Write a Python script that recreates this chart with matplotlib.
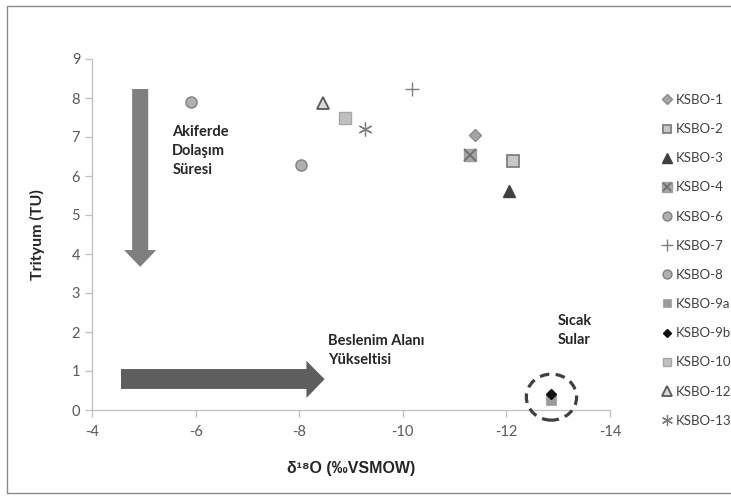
import numpy as np
import matplotlib
matplotlib.use("Agg")
import matplotlib.pyplot as plt
from matplotlib.patches import Polygon, Ellipse, Rectangle
from matplotlib.legend_handler import HandlerTuple

# ==========================================================
# DATA
# ==========================================================

names = ["KSBO-1", "KSBO-2", "KSBO-3", "KSBO-4", "KSBO-6", "KSBO-7",
         "KSBO-8", "KSBO-9a", "KSBO-9b", "KSBO-10", "KSBO-12", "KSBO-13"]

d18O = [-11.39, -12.13, -12.05, -11.29, -8.04, -10.18,
        -5.91, -12.87, -12.87, -8.89, -8.45, -9.27]

tritium = [7.06, 6.39, 5.62, 6.54, 6.28, 8.23,
           7.89, 0.26, 0.41, 7.50, 7.88, 7.20]

xticks = [-4, -6, -8, -10, -12, -14]
yticks = list(range(0, 10))

# ==========================================================
# STYLES
# ==========================================================

styles = {
    "KSBO-1": dict(marker="D", ms=6.5, mfc="#A6A6A6", mec="#8C8C8C", mew=1),
    "KSBO-2": dict(marker="s", ms=8, mfc="#C8C8C8", mec="#7F7F7F", mew=1.3),
    "KSBO-3": dict(marker="^", ms=9, mfc="#404040", mec="#404040", mew=1),
    "KSBO-4": dict(marker="s", ms=8.5, mfc="#A6A6A6", mec="#A0A0A0", mew=1),
    "KSBO-6": dict(marker="o", ms=8, mfc="#B0B0B0", mec="#808080", mew=1),
    "KSBO-7": dict(marker="+", ms=10, mfc="#808080", mec="#808080", mew=1),
    "KSBO-8": dict(marker="o", ms=8, mfc="#B0B0B0", mec="#808080", mew=1),
    "KSBO-9a": dict(marker="s", ms=7, mfc="#9C9C9C", mec="#9C9C9C", mew=0.5),
    "KSBO-9b": dict(marker="D", ms=5.5, mfc="#111111", mec="#111111", mew=1),
    "KSBO-10": dict(marker="s", ms=8, mfc="#C0C0C0", mec="#A6A6A6", mew=1),
    "KSBO-12": dict(marker="^", ms=9, mfc="#D9D9D9", mec="#595959", mew=1.3),
    "KSBO-13": dict(marker=(6, 2, 0), ms=10, mfc="#7A7A7A", mec="#7A7A7A", mew=0.9),
}

plt.rcParams["font.family"] = ["Lato", "DejaVu Sans"]

fig = plt.figure(figsize=(7.31, 4.96), dpi=100)
ax = fig.add_axes([92/731, 1-410/496, 518/731, 351/496])

# chart frame
fig.patches.append(Rectangle((7/731, 3/496), 1.2, 1-9/496,
                             transform=fig.transFigure, fill=False,
                             ec="#8A8A8A", lw=1.0))

handles = []
for name, x, y in zip(names, d18O, tritium):
    st = styles[name]
    zo = 4 if name == "KSBO-9b" else 3
    h, = ax.plot([x], [y], ls="none", zorder=zo, clip_on=False, **st)
    if name == "KSBO-4":
        hx, = ax.plot([x], [y], ls="none", marker="x", ms=8, mec="#6E6E6E",
                      mew=1.3, zorder=zo)
        handles.append((h, hx))
    else:
        handles.append(h)

# ----------------------------------------------------------
# arrows / annotations
# ----------------------------------------------------------

vx = -4.93
v_arrow = Polygon([(vx-0.155, 8.23), (vx+0.155, 8.23), (vx+0.155, 4.10),
                   (vx+0.31, 4.10), (vx, 3.67), (vx-0.31, 4.10),
                   (vx-0.155, 4.10)],
                  closed=True, fc="#7F7F7F", ec="none", zorder=2)
ax.add_patch(v_arrow)

h_arrow = Polygon([(-4.56, 1.05), (-8.14, 1.05), (-8.14, 1.26), (-8.49, 0.79),
                   (-8.14, 0.31), (-8.14, 0.54), (-4.56, 0.54)],
                  closed=True, fc="#5E5E5E", ec="none", zorder=2)
ax.add_patch(h_arrow)

ax.add_patch(Ellipse((-12.87, 0.33), 0.97, 1.18, fill=False, ec="#404040",
                     lw=2.3, ls=(0, (3, 2)), zorder=5, clip_on=False))

txt = dict(fontsize=10.5, fontweight="bold", color="#262626",
           ha="left", va="top", linespacing=1.45)
ax.text(-5.55, 7.30, "Akiferde\nDolaşım\nSüresi", **txt)
ax.text(-8.55, 1.95, "Beslenim Alanı\nYükseltisi", **txt)
ax.text(-12.99, 2.47, "Sıcak\nSular", **txt)

# ----------------------------------------------------------
# axes
# ----------------------------------------------------------

ax.set_xlim(-4, -14)
ax.set_ylim(0, 9)
ax.set_xticks(xticks)
ax.set_yticks(yticks)
ax.set_xticklabels([str(t) for t in xticks])

for s in ["top", "right"]:
    ax.spines[s].set_visible(False)
for s in ["left", "bottom"]:
    ax.spines[s].set_color("#BFBFBF")
    ax.spines[s].set_linewidth(0.9)

ax.tick_params(axis="both", colors="#BFBFBF", labelcolor="#595959",
               labelsize=10.5, length=5, width=0.9)
ax.tick_params(axis="x", pad=6)

ax.set_ylabel("Trityum (TU)", fontsize=11.5, fontweight="bold",
              color="#262626", labelpad=19)
ax.set_xlabel("δ¹⁸O (‰VSMOW)", fontsize=11.5, fontweight="bold",
              color="#262626", labelpad=16,
              family=["Liberation Sans", "DejaVu Sans"])

fig.legend(handles, names, loc="upper left",
           bbox_to_anchor=(661/731, 1-94/496), bbox_transform=fig.transFigure,
           frameon=False, fontsize=9.5, handlelength=0.85, handletextpad=0.3,
           labelspacing=1.3, borderpad=0, borderaxespad=0, markerscale=0.8,
           labelcolor="#404040",
           handler_map={tuple: HandlerTuple(ndivide=1, pad=0)})

fig.savefig("out.png", dpi=100)
